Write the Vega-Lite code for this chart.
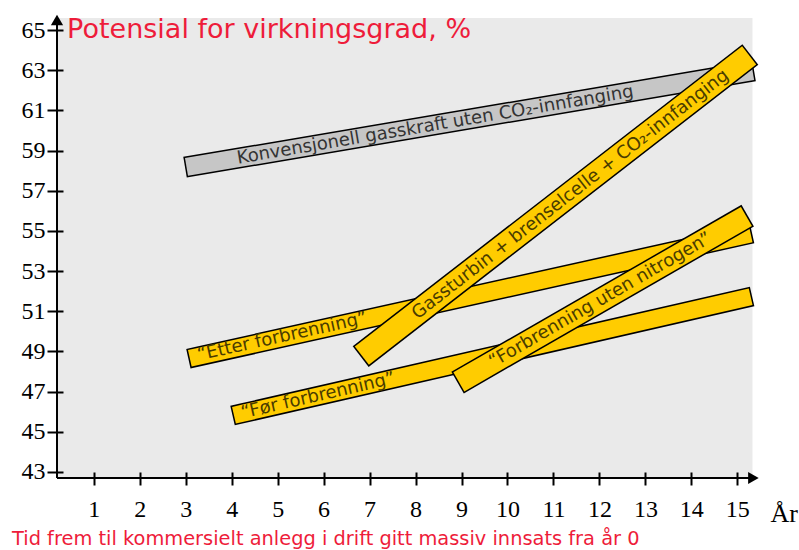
{
  "$schema": "https://vega.github.io/schema/vega-lite/v6.json",
  "width": 701,
  "height": 464,
  "autosize": {"type": "none"},
  "padding": {"left": 57, "top": 14, "right": 41, "bottom": 72},
  "background": "white",
  "config": {"view": {"stroke": null}},
  "datasets": {
    "bands": [
      {"band": "gray", "year": 3.21, "value": 58.26},
      {"band": "gray", "year": 15.14, "value": 62.88},
      {"band": "for", "year": 4.23, "value": 45.92},
      {"band": "for", "year": 15.11, "value": 51.63},
      {"band": "etter", "year": 3.27, "value": 48.75},
      {"band": "etter", "year": 15.11, "value": 54.76},
      {"band": "gass", "year": 7.03, "value": 49.14},
      {"band": "gass", "year": 15.06, "value": 63.39},
      {"band": "nitrogen", "year": 9.15, "value": 47.76},
      {"band": "nitrogen", "year": 14.99, "value": 55.45}
    ],
    "labels": [
      {"band": "gray", "year": 8.43, "value": 60.26, "text": "Konvensjonell gasskraft uten CO₂-innfanging"},
      {"band": "gass", "year": 11.37, "value": 56.81, "text": "Gassturbin + brenselcelle + CO₂-innfanging"},
      {"band": "etter", "year": 5.1, "value": 49.72, "text": "“Etter forbrenning”"},
      {"band": "for", "year": 5.88, "value": 46.78, "text": "“Før forbrenning”"},
      {"band": "nitrogen", "year": 12.02, "value": 51.54, "text": "“Forbrenning uten nitrogen”"}
    ]
  },
  "title": {
    "text": "Tid frem til kommersielt anlegg i drift gitt massiv innsats fra år 0",
    "orient": "bottom",
    "anchor": "start",
    "frame": "bounds",
    "color": "#EE1C3A",
    "font": "DejaVu Sans",
    "fontSize": 19.4,
    "fontWeight": "normal",
    "offset": 4,
    "dx": -9
  },
  "layer": [
    {
      "data": {"values": [{}]},
      "mark": {"type": "rect", "color": "#EAEAEA"},
      "encoding": {
        "x": {"datum": 0.2, "type": "quantitative"},
        "x2": {"datum": 15.33},
        "y": {"datum": 42.7, "type": "quantitative"},
        "y2": {"datum": 65.6}
      }
    },
    {
      "data": {"values": [{}]},
      "mark": {"type": "rule", "color": "black", "strokeWidth": 2},
      "encoding": {
        "x": {"datum": 0.2, "type": "quantitative"},
        "y": {"datum": 42.7, "type": "quantitative"},
        "y2": {"datum": 65.4}
      }
    },
    {
      "data": {"values": [{}]},
      "mark": {"type": "rule", "color": "black", "strokeWidth": 2},
      "encoding": {
        "y": {"datum": 42.7, "type": "quantitative"},
        "x": {"datum": 0.2, "type": "quantitative"},
        "x2": {"datum": 15.3}
      }
    },
    {
      "data": {"values": [{}]},
      "mark": {"type": "point", "shape": "triangle-up", "filled": true, "color": "black", "opacity": 1, "size": 150},
      "encoding": {"x": {"datum": 0.2, "type": "quantitative"}, "y": {"datum": 65.5, "type": "quantitative"}}
    },
    {
      "data": {"values": [{}]},
      "mark": {"type": "point", "shape": "triangle-right", "filled": true, "color": "black", "opacity": 1, "size": 150},
      "encoding": {"x": {"datum": 15.35, "type": "quantitative"}, "y": {"datum": 42.7, "type": "quantitative"}}
    },
    {
      "data": {"values": [{}]},
      "mark": {"type": "text", "text": "Potensial for virkningsgrad, %", "align": "left", "baseline": "middle", "font": "DejaVu Sans", "fontSize": 27, "color": "#EE1C3A"},
      "encoding": {"x": {"datum": 0.42, "type": "quantitative"}, "y": {"datum": 65.0, "type": "quantitative"}}
    },
    {
      "data": {"name": "bands"},
      "encoding": {
        "x": {
          "field": "year",
          "type": "quantitative",
          "scale": {"domain": [0.2, 15.45], "nice": false, "zero": false},
          "axis": {
            "title": "År",
            "values": [1, 2, 3, 4, 5, 6, 7, 8, 9, 10, 11, 12, 13, 14, 15],
            "offset": -6,
            "ticks": true,
            "tickSize": 13,
            "tickWidth": 2,
            "tickColor": "black",
            "tickOpacity": 1,
            "domain": false,
            "grid": false,
            "zindex": 1,
            "labelFont": "Liberation Serif",
            "labelFontSize": 24,
            "labelColor": "black",
            "labelPadding": 12,
            "labelFlush": false,
            "titleFont": "Liberation Serif",
            "titleFontSize": 26,
            "titleFontWeight": "normal",
            "titleColor": "black",
            "titleAlign": "left",
            "titleBaseline": "alphabetic",
            "titleAnchor": "start",
            "titleX": 713,
            "titleY": 49
          }
        },
        "y": {
          "field": "value",
          "type": "quantitative",
          "scale": {"domain": [42.7, 65.8], "nice": false, "zero": false},
          "axis": {
            "title": null,
            "values": [43, 45, 47, 49, 51, 53, 55, 57, 59, 61, 63, 65],
            "offset": -6,
            "ticks": true,
            "tickSize": 16,
            "tickWidth": 2,
            "tickColor": "black",
            "tickOpacity": 1,
            "domain": false,
            "grid": false,
            "zindex": 1,
            "labelFont": "Liberation Serif",
            "labelFontSize": 24,
            "labelColor": "black",
            "labelPadding": 2
          }
        }
      },
      "layer": [
        {
          "transform": [{"filter": "datum.band === 'gray'"}],
          "mark": {"type": "line", "color": "black", "strokeWidth": 21, "strokeCap": "square"}
        },
        {
          "transform": [{"filter": "datum.band === 'gray'"}],
          "mark": {"type": "line", "color": "#C6C6C6", "strokeWidth": 18, "strokeCap": "square"}
        },
        {
          "data": {"name": "labels"},
          "transform": [{"filter": "datum.band === 'gray'"}],
          "mark": {"type": "text", "angle": -9.6, "align": "center", "baseline": "middle", "font": "DejaVu Sans", "fontSize": 18, "color": "#333333"},
          "encoding": {"text": {"field": "text"}}
        },
        {
          "transform": [{"filter": "datum.band === 'for'"}],
          "mark": {"type": "line", "color": "black", "strokeWidth": 20, "strokeCap": "square"}
        },
        {
          "transform": [{"filter": "datum.band === 'for'"}],
          "mark": {"type": "line", "color": "#FFCC00", "strokeWidth": 17, "strokeCap": "square"}
        },
        {
          "data": {"name": "labels"},
          "transform": [{"filter": "datum.band === 'for'"}],
          "mark": {"type": "text", "angle": -12.9, "align": "center", "baseline": "middle", "font": "DejaVu Sans", "fontSize": 18, "color": "#4A3C00"},
          "encoding": {"text": {"field": "text"}}
        },
        {
          "transform": [{"filter": "datum.band === 'etter'"}],
          "mark": {"type": "line", "color": "black", "strokeWidth": 20, "strokeCap": "square"}
        },
        {
          "transform": [{"filter": "datum.band === 'etter'"}],
          "mark": {"type": "line", "color": "#FFCC00", "strokeWidth": 17, "strokeCap": "square"}
        },
        {
          "data": {"name": "labels"},
          "transform": [{"filter": "datum.band === 'etter'"}],
          "mark": {"type": "text", "angle": -12.5, "align": "center", "baseline": "middle", "font": "DejaVu Sans", "fontSize": 18, "color": "#4A3C00"},
          "encoding": {"text": {"field": "text"}}
        },
        {
          "transform": [{"filter": "datum.band === 'gass'"}],
          "mark": {"type": "line", "color": "black", "strokeWidth": 26, "strokeCap": "square"}
        },
        {
          "transform": [{"filter": "datum.band === 'gass'"}],
          "mark": {"type": "line", "color": "#FFCC00", "strokeWidth": 23, "strokeCap": "square"}
        },
        {
          "data": {"name": "labels"},
          "transform": [{"filter": "datum.band === 'gass'"}],
          "mark": {"type": "text", "angle": -37.8, "align": "center", "baseline": "middle", "font": "DejaVu Sans", "fontSize": 18, "color": "#4A3C00"},
          "encoding": {"text": {"field": "text"}}
        },
        {
          "transform": [{"filter": "datum.band === 'nitrogen'"}],
          "mark": {"type": "line", "color": "black", "strokeWidth": 25, "strokeCap": "square"}
        },
        {
          "transform": [{"filter": "datum.band === 'nitrogen'"}],
          "mark": {"type": "line", "color": "#FFCC00", "strokeWidth": 22, "strokeCap": "square"}
        },
        {
          "data": {"name": "labels"},
          "transform": [{"filter": "datum.band === 'nitrogen'"}],
          "mark": {"type": "text", "angle": -29.9, "align": "center", "baseline": "middle", "font": "DejaVu Sans", "fontSize": 18, "color": "#4A3C00"},
          "encoding": {"text": {"field": "text"}}
        }
      ]
    }
  ]
}
